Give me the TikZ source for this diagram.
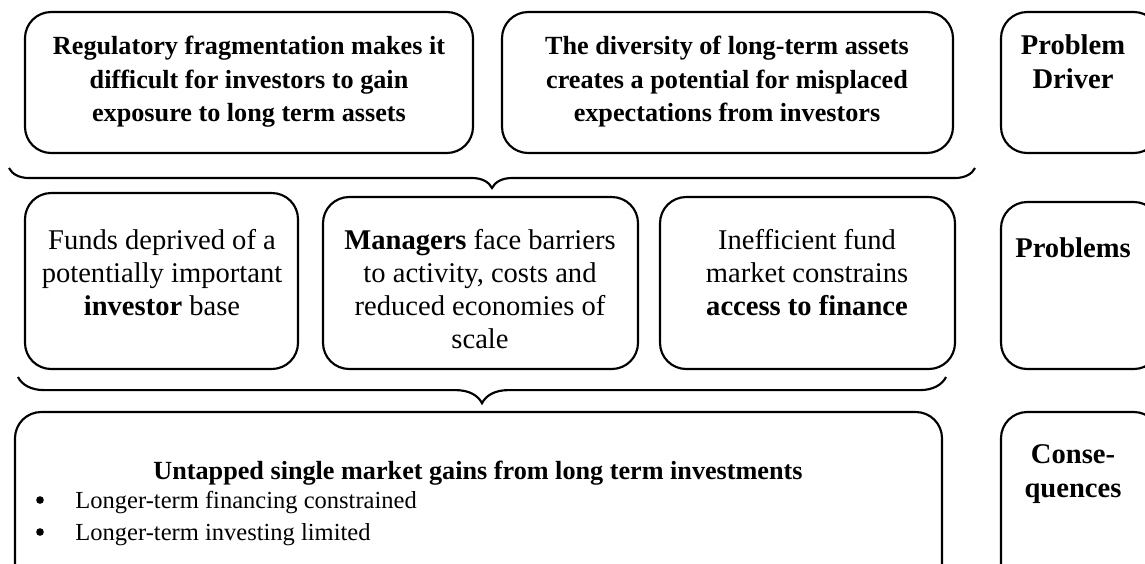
\documentclass[tikz,border=0pt]{standalone}
\usepackage{fontspec}
\setmainfont{Liberation Serif}
\usetikzlibrary{decorations.pathreplacing}

\tikzset{
	frame/.style={draw, line width=0.9pt, rounded corners=11pt},
	txt/.style={align=center, anchor=north, inner sep=0pt, font=\fontsize{12}{13.9}\selectfont},
	head/.style={txt, font=\fontsize{11}{13.9}\selectfont\bfseries},
	side/.style={txt, font=\fontsize{12}{14.3}\selectfont\bfseries},
	dot/.style={circle, fill, inner sep=0pt, minimum size=3.2pt},
	bracket/.style={decorate, line width=0.9pt, decoration={brace, mirror, amplitude=#1}},
	bracket/.default=8pt,
}

\begin{document}
\begin{tikzpicture}[x=0.42pt, y=-0.42pt]
	\useasboundingbox (0,0) rectangle (1145,563);

	\draw[frame] (25,12) rectangle (473,153);
	\node[head] (regfrag) at (249,36) {Regulatory fragmentation makes it\\difficult for investors to gain\\exposure to long term assets};
	\draw[frame] (502,12) rectangle (953,153);
	\node[head] (diversity) at (727,36) {The diversity of long-term assets\\creates a potential for misplaced\\expectations from investors};
	\draw[frame] (1001,12) rectangle (1160,153);
	\node[side] (driver) at (1073,34) {Problem\\Driver};

	\coordinate (brace1l) at (9,168);
	\coordinate (brace1r) at (975,168);
	\draw[bracket=8.4pt] (brace1l) -- (brace1r);

	\draw[frame] (25,193) rectangle (298,369);
	\node[txt] (funds) at (162,229) {Funds deprived of a\\potentially important\\\textbf{investor} base};
	\draw[frame] (323,197) rectangle (638,369);
	\node[txt] (managers) at (480,229) {\textbf{Managers} face barriers\\to activity, costs and\\reduced economies of\\scale};
	\draw[frame] (660,197) rectangle (955,369);
	\node[txt] (finance) at (807,229) {Inefficient fund\\market constrains\\\textbf{access to finance}};
	\draw[frame] (1001,202) rectangle (1160,369);
	\node[side] (problems) at (1073,237) {Problems};

	\coordinate (brace2l) at (18,377);
	\coordinate (brace2r) at (946,377);
	\draw[bracket=11pt] (brace2l) -- (brace2r);

	\draw[frame] (15,412) rectangle (942,600);
	\node[head] (untapped) at (478,461) {Untapped single market gains from long term investments};
	\node[dot] (dot1) at (40,500) {};
	\node[dot] (dot2) at (40,532) {};
	\node[txt, anchor=north west, align=left, font=\fontsize{10.3}{13.4}\selectfont] (bullets) at (75,491) {Longer-term financing constrained\\Longer-term investing limited};
	\draw[frame] (1001,412) rectangle (1160,600);
	\node[side] (conseq) at (1073,444) {Conse-\\quences};
\end{tikzpicture}
\end{document}
